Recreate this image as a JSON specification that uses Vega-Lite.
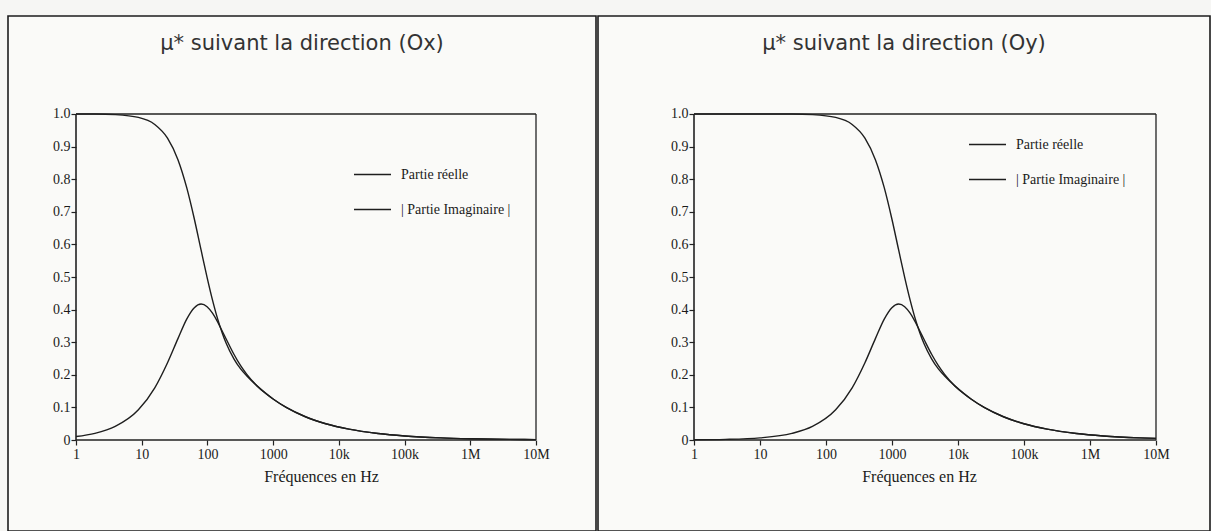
{
  "$schema": "https://vega.github.io/schema/vega-lite/v6.json",
  "background": "#f6f6f4",
  "padding": {"left": 7, "top": 15, "right": 0, "bottom": 0},
  "spacing": 0,
  "config": {
    "view": {"stroke": "#1c1c1c", "strokeWidth": 1.6, "fill": "#fafaf8"},
    "axis": {"domain": false, "grid": false, "tickColor": "#222", "tickWidth": 1.2, "labelColor": "#1a1a1a", "labelFont": "Liberation Serif", "labelFontSize": 14, "titleFont": "Liberation Serif", "titleFontSize": 16, "titleFontWeight": "normal", "titleColor": "#1a1a1a"},
    "title": {"font": "DejaVu Sans", "fontSize": 21, "fontWeight": "normal", "color": "#333", "anchor": "middle"},
    "legend": {"title": null, "symbolType": "stroke", "symbolSize": 1369, "symbolStrokeWidth": 1.3, "labelFont": "Liberation Serif", "labelFontSize": 14, "labelColor": "#1a1a1a", "labelOffset": 9, "rowPadding": 8, "padding": 0}
  },
  "datasets": {
    "ox": [
      {"f": 1, "serie": "Partie réelle", "mu": 1.0},
      {"f": 1.94, "serie": "Partie réelle", "mu": 0.9999},
      {"f": 3.95, "serie": "Partie réelle", "mu": 0.998},
      {"f": 8.9, "serie": "Partie réelle", "mu": 0.9895},
      {"f": 15.8, "serie": "Partie réelle", "mu": 0.968},
      {"f": 24.7, "serie": "Partie réelle", "mu": 0.926},
      {"f": 35.6, "serie": "Partie réelle", "mu": 0.86},
      {"f": 48.4, "serie": "Partie réelle", "mu": 0.774},
      {"f": 63.2, "serie": "Partie réelle", "mu": 0.678},
      {"f": 80, "serie": "Partie réelle", "mu": 0.583},
      {"f": 98.8, "serie": "Partie réelle", "mu": 0.499},
      {"f": 119.5, "serie": "Partie réelle", "mu": 0.429},
      {"f": 142.2, "serie": "Partie réelle", "mu": 0.373},
      {"f": 166.9, "serie": "Partie réelle", "mu": 0.33},
      {"f": 193.6, "serie": "Partie réelle", "mu": 0.296},
      {"f": 252.8, "serie": "Partie réelle", "mu": 0.249},
      {"f": 320, "serie": "Partie réelle", "mu": 0.218},
      {"f": 395, "serie": "Partie réelle", "mu": 0.197},
      {"f": 569, "serie": "Partie réelle", "mu": 0.166},
      {"f": 774, "serie": "Partie réelle", "mu": 0.143},
      {"f": 1011, "serie": "Partie réelle", "mu": 0.125},
      {"f": 1580, "serie": "Partie réelle", "mu": 0.1},
      {"f": 3097, "serie": "Partie réelle", "mu": 0.0714},
      {"f": 6320, "serie": "Partie réelle", "mu": 0.05},
      {"f": 14220, "serie": "Partie réelle", "mu": 0.0333},
      {"f": 39500, "serie": "Partie réelle", "mu": 0.02},
      {"f": 101100, "serie": "Partie réelle", "mu": 0.0125},
      {"f": 355500, "serie": "Partie réelle", "mu": 0.0067},
      {"f": 987500, "serie": "Partie réelle", "mu": 0.004},
      {"f": 3950000, "serie": "Partie réelle", "mu": 0.002},
      {"f": 10000000, "serie": "Partie réelle", "mu": 0.0013},
      {"f": 1, "serie": "| Partie Imaginaire |", "mu": 0.0106},
      {"f": 1.94, "serie": "| Partie Imaginaire |", "mu": 0.0204},
      {"f": 3.95, "serie": "| Partie Imaginaire |", "mu": 0.0416},
      {"f": 8.9, "serie": "| Partie Imaginaire |", "mu": 0.0926},
      {"f": 15.8, "serie": "| Partie Imaginaire |", "mu": 0.16},
      {"f": 24.7, "serie": "| Partie Imaginaire |", "mu": 0.237},
      {"f": 35.6, "serie": "| Partie Imaginaire |", "mu": 0.311},
      {"f": 48.4, "serie": "| Partie Imaginaire |", "mu": 0.371},
      {"f": 63.2, "serie": "| Partie Imaginaire |", "mu": 0.406},
      {"f": 80, "serie": "| Partie Imaginaire |", "mu": 0.417},
      {"f": 98.8, "serie": "| Partie Imaginaire |", "mu": 0.409},
      {"f": 119.5, "serie": "| Partie Imaginaire |", "mu": 0.389},
      {"f": 142.2, "serie": "| Partie Imaginaire |", "mu": 0.363},
      {"f": 166.9, "serie": "| Partie Imaginaire |", "mu": 0.335},
      {"f": 193.6, "serie": "| Partie Imaginaire |", "mu": 0.309},
      {"f": 252.8, "serie": "| Partie Imaginaire |", "mu": 0.263},
      {"f": 320, "serie": "| Partie Imaginaire |", "mu": 0.228},
      {"f": 395, "serie": "| Partie Imaginaire |", "mu": 0.202},
      {"f": 569, "serie": "| Partie Imaginaire |", "mu": 0.166},
      {"f": 774, "serie": "| Partie Imaginaire |", "mu": 0.1425},
      {"f": 1011, "serie": "| Partie Imaginaire |", "mu": 0.125},
      {"f": 1580, "serie": "| Partie Imaginaire |", "mu": 0.1},
      {"f": 3097, "serie": "| Partie Imaginaire |", "mu": 0.0714},
      {"f": 6320, "serie": "| Partie Imaginaire |", "mu": 0.05},
      {"f": 14220, "serie": "| Partie Imaginaire |", "mu": 0.0333},
      {"f": 39500, "serie": "| Partie Imaginaire |", "mu": 0.02},
      {"f": 101100, "serie": "| Partie Imaginaire |", "mu": 0.0125},
      {"f": 355500, "serie": "| Partie Imaginaire |", "mu": 0.0067},
      {"f": 987500, "serie": "| Partie Imaginaire |", "mu": 0.004},
      {"f": 3950000, "serie": "| Partie Imaginaire |", "mu": 0.002},
      {"f": 10000000, "serie": "| Partie Imaginaire |", "mu": 0.0013}
    ],
    "oy": [
      {"f": 1, "serie": "Partie réelle", "mu": 1.0},
      {"f": 3, "serie": "Partie réelle", "mu": 1.0},
      {"f": 10, "serie": "Partie réelle", "mu": 1.0},
      {"f": 30.5, "serie": "Partie réelle", "mu": 0.9999},
      {"f": 62.3, "serie": "Partie réelle", "mu": 0.998},
      {"f": 140, "serie": "Partie réelle", "mu": 0.9895},
      {"f": 249, "serie": "Partie réelle", "mu": 0.968},
      {"f": 389, "serie": "Partie réelle", "mu": 0.926},
      {"f": 560, "serie": "Partie réelle", "mu": 0.86},
      {"f": 763, "serie": "Partie réelle", "mu": 0.774},
      {"f": 996, "serie": "Partie réelle", "mu": 0.678},
      {"f": 1261, "serie": "Partie réelle", "mu": 0.583},
      {"f": 1556, "serie": "Partie réelle", "mu": 0.499},
      {"f": 1883, "serie": "Partie réelle", "mu": 0.429},
      {"f": 2241, "serie": "Partie réelle", "mu": 0.373},
      {"f": 2630, "serie": "Partie réelle", "mu": 0.33},
      {"f": 3050, "serie": "Partie réelle", "mu": 0.296},
      {"f": 3984, "serie": "Partie réelle", "mu": 0.249},
      {"f": 5042, "serie": "Partie réelle", "mu": 0.218},
      {"f": 6225, "serie": "Partie réelle", "mu": 0.197},
      {"f": 8964, "serie": "Partie réelle", "mu": 0.166},
      {"f": 12200, "serie": "Partie réelle", "mu": 0.143},
      {"f": 15936, "serie": "Partie réelle", "mu": 0.125},
      {"f": 24900, "serie": "Partie réelle", "mu": 0.1},
      {"f": 48800, "serie": "Partie réelle", "mu": 0.0714},
      {"f": 99600, "serie": "Partie réelle", "mu": 0.05},
      {"f": 224100, "serie": "Partie réelle", "mu": 0.0333},
      {"f": 622500, "serie": "Partie réelle", "mu": 0.02},
      {"f": 1593600, "serie": "Partie réelle", "mu": 0.0125},
      {"f": 5602500, "serie": "Partie réelle", "mu": 0.0067},
      {"f": 10000000, "serie": "Partie réelle", "mu": 0.005},
      {"f": 1, "serie": "| Partie Imaginaire |", "mu": 0.0007},
      {"f": 3, "serie": "| Partie Imaginaire |", "mu": 0.002},
      {"f": 10, "serie": "| Partie Imaginaire |", "mu": 0.0067},
      {"f": 30.5, "serie": "| Partie Imaginaire |", "mu": 0.0204},
      {"f": 62.3, "serie": "| Partie Imaginaire |", "mu": 0.0416},
      {"f": 140, "serie": "| Partie Imaginaire |", "mu": 0.0926},
      {"f": 249, "serie": "| Partie Imaginaire |", "mu": 0.16},
      {"f": 389, "serie": "| Partie Imaginaire |", "mu": 0.237},
      {"f": 560, "serie": "| Partie Imaginaire |", "mu": 0.311},
      {"f": 763, "serie": "| Partie Imaginaire |", "mu": 0.371},
      {"f": 996, "serie": "| Partie Imaginaire |", "mu": 0.406},
      {"f": 1261, "serie": "| Partie Imaginaire |", "mu": 0.417},
      {"f": 1556, "serie": "| Partie Imaginaire |", "mu": 0.409},
      {"f": 1883, "serie": "| Partie Imaginaire |", "mu": 0.389},
      {"f": 2241, "serie": "| Partie Imaginaire |", "mu": 0.363},
      {"f": 2630, "serie": "| Partie Imaginaire |", "mu": 0.335},
      {"f": 3050, "serie": "| Partie Imaginaire |", "mu": 0.309},
      {"f": 3984, "serie": "| Partie Imaginaire |", "mu": 0.263},
      {"f": 5042, "serie": "| Partie Imaginaire |", "mu": 0.228},
      {"f": 6225, "serie": "| Partie Imaginaire |", "mu": 0.202},
      {"f": 8964, "serie": "| Partie Imaginaire |", "mu": 0.166},
      {"f": 12200, "serie": "| Partie Imaginaire |", "mu": 0.1425},
      {"f": 15936, "serie": "| Partie Imaginaire |", "mu": 0.125},
      {"f": 24900, "serie": "| Partie Imaginaire |", "mu": 0.1},
      {"f": 48800, "serie": "| Partie Imaginaire |", "mu": 0.0714},
      {"f": 99600, "serie": "| Partie Imaginaire |", "mu": 0.05},
      {"f": 224100, "serie": "| Partie Imaginaire |", "mu": 0.0333},
      {"f": 622500, "serie": "| Partie Imaginaire |", "mu": 0.02},
      {"f": 1593600, "serie": "| Partie Imaginaire |", "mu": 0.0125},
      {"f": 5602500, "serie": "| Partie Imaginaire |", "mu": 0.0067},
      {"f": 10000000, "serie": "| Partie Imaginaire |", "mu": 0.005}
    ]
  },
  "resolve": {"scale": {"color": "independent", "x": "independent", "y": "independent"}},
  "hconcat": [
    {
      "width": 588,
      "height": 515,
      "title": {"text": "μ* suivant la direction (Ox)", "offset": -38},
      "layer": [
        {
          "data": {"name": "ox"},
          "mark": {"type": "line", "interpolate": "monotone", "strokeWidth": 1.4},
          "encoding": {
            "x": {"field": "f", "type": "quantitative", "title": "Fréquences en Hz",
              "scale": {"type": "log", "domain": [0.0923, 81850000], "nice": false},
              "axis": {"values": [1, 10, 100, 1000, 10000, 100000, 1000000, 10000000],
                "labelExpr": "datum.value >= 1e6 ? format(datum.value/1e6,'d')+'M' : (datum.value >= 1e4 ? format(datum.value/1e3,'d')+'k' : format(datum.value,'d'))",
                "offset": -91, "tickSize": 5, "labelPadding": 2, "labelOverlap": false, "labelFlush": false,
                "titleX": 313, "titleY": 36, "titleBaseline": "middle", "titleAlign": "center"}},
            "y": {"field": "mu", "type": "quantitative", "title": null,
              "scale": {"domain": [-0.2791, 1.3006], "nice": false, "zero": false},
              "axis": {"values": [0, 0.05, 0.1, 0.15, 0.2, 0.25, 0.3, 0.35, 0.4, 0.45, 0.5, 0.55, 0.6, 0.65, 0.7, 0.75, 0.8, 0.85, 0.9, 0.95, 1.0],
                "labelExpr": "abs(datum.value*10 - round(datum.value*10)) > 0.01 ? '' : (datum.value == 0 ? '0' : format(datum.value,'.1f'))",
                "tickSize": {"condition": {"test": "abs(datum.value*10 - round(datum.value*10)) > 0.01", "value": 3}, "value": 5},
                "offset": -68, "labelPadding": 1, "labelOverlap": false, "labelFlush": false}},
            "color": {"field": "serie", "type": "nominal",
              "scale": {"domain": ["Partie réelle", "| Partie Imaginaire |"], "range": ["#1e1e1e", "#1e1e1e"]},
              "legend": {"orient": "none", "legendX": 345, "legendY": 139}}
          }
        },
        {"data": {"values": [{}]}, "mark": {"type": "rule", "color": "#222", "strokeWidth": 1.3},
          "encoding": {"x": {"datum": 1}, "x2": {"datum": 10000000}, "y": {"datum": 1}}},
        {"data": {"values": [{}]}, "mark": {"type": "rule", "color": "#222", "strokeWidth": 1.6},
          "encoding": {"x": {"datum": 1}, "x2": {"datum": 10000000}, "y": {"datum": 0}}},
        {"data": {"values": [{}]}, "mark": {"type": "rule", "color": "#222", "strokeWidth": 1.6},
          "encoding": {"x": {"datum": 1}, "y": {"datum": 0}, "y2": {"datum": 1}}},
        {"data": {"values": [{}]}, "mark": {"type": "rule", "color": "#222", "strokeWidth": 1.3},
          "encoding": {"x": {"datum": 10000000}, "y": {"datum": 0}, "y2": {"datum": 1}}}
      ]
    },
    {
      "width": 612,
      "height": 515,
      "title": {"text": "μ* suivant la direction (Oy)", "offset": -38},
      "layer": [
        {
          "data": {"name": "oy"},
          "mark": {"type": "line", "interpolate": "monotone", "strokeWidth": 1.4},
          "encoding": {
            "x": {"field": "f", "type": "quantitative", "title": "Fréquences en Hz",
              "scale": {"type": "log", "domain": [0.03511, 65800000], "nice": false},
              "axis": {"values": [1, 10, 100, 1000, 10000, 100000, 1000000, 10000000],
                "labelExpr": "datum.value >= 1e6 ? format(datum.value/1e6,'d')+'M' : (datum.value >= 1e4 ? format(datum.value/1e3,'d')+'k' : format(datum.value,'d'))",
                "offset": -91, "tickSize": 5, "labelPadding": 2, "labelOverlap": false, "labelFlush": false,
                "titleX": 321, "titleY": 36, "titleBaseline": "middle", "titleAlign": "center"}},
            "y": {"field": "mu", "type": "quantitative", "title": null,
              "scale": {"domain": [-0.2791, 1.3006], "nice": false, "zero": false},
              "axis": {"values": [0, 0.05, 0.1, 0.15, 0.2, 0.25, 0.3, 0.35, 0.4, 0.45, 0.5, 0.55, 0.6, 0.65, 0.7, 0.75, 0.8, 0.85, 0.9, 0.95, 1.0],
                "labelExpr": "abs(datum.value*10 - round(datum.value*10)) > 0.01 ? '' : (datum.value == 0 ? '0' : format(datum.value,'.1f'))",
                "tickSize": {"condition": {"test": "abs(datum.value*10 - round(datum.value*10)) > 0.01", "value": 3}, "value": 5},
                "offset": -96, "labelPadding": 1, "labelOverlap": false, "labelFlush": false}},
            "color": {"field": "serie", "type": "nominal",
              "scale": {"domain": ["Partie réelle", "| Partie Imaginaire |"], "range": ["#1e1e1e", "#1e1e1e"]},
              "legend": {"orient": "none", "legendX": 370, "legendY": 109}}
          }
        },
        {"data": {"values": [{}]}, "mark": {"type": "rule", "color": "#222", "strokeWidth": 1.3},
          "encoding": {"x": {"datum": 1}, "x2": {"datum": 10000000}, "y": {"datum": 1}}},
        {"data": {"values": [{}]}, "mark": {"type": "rule", "color": "#222", "strokeWidth": 1.6},
          "encoding": {"x": {"datum": 1}, "x2": {"datum": 10000000}, "y": {"datum": 0}}},
        {"data": {"values": [{}]}, "mark": {"type": "rule", "color": "#222", "strokeWidth": 1.6},
          "encoding": {"x": {"datum": 1}, "y": {"datum": 0}, "y2": {"datum": 1}}},
        {"data": {"values": [{}]}, "mark": {"type": "rule", "color": "#222", "strokeWidth": 1.3},
          "encoding": {"x": {"datum": 10000000}, "y": {"datum": 0}, "y2": {"datum": 1}}}
      ]
    }
  ]
}
